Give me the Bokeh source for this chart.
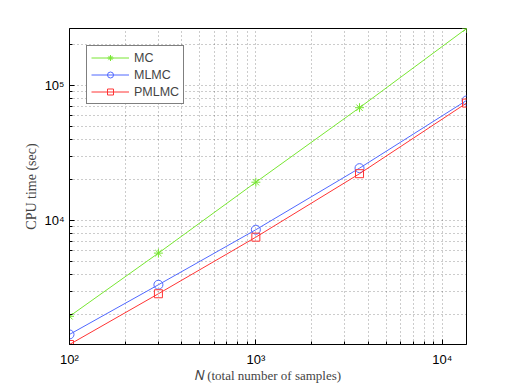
from bokeh.plotting import figure
from bokeh.models import Range1d, Legend, LegendItem, FixedTicker
from bokeh.embed import file_html
from bokeh.resources import INLINE

# ---- data ----
n_samples = [100, 300, 1000, 3600, 13500]
mc = [1950, 5730, 19200, 68400, 264000]
mlmc = [1432, 3340, 8540, 24400, 77400]
pmlmc = [1206, 2865, 7520, 22200, 74000]
series_names = ["MC", "MLMC", "PMLMC"]
x_major = [100, 1000, 10000]
y_major = [10000, 100000]
x_tick_labels = {100: "10\u00b2", 1000: "10\u00b3", 10000: "10\u2074"}
y_tick_labels = {10000: "10\u2074", 100000: "10\u2075"}
x_title = "\U0001D441 (total number of samples)"
y_title = "CPU time (sec)"

GREEN = "#78e632"
BLUE = "#5068ff"
RED = "#ff3434"

x_minor = [m * d for d in (10, 100, 1000, 10000) for m in range(2, 10)]
y_minor = [m * d for d in (100, 1000, 10000, 100000) for m in range(2, 10)]
xt = FixedTicker(ticks=x_major, minor_ticks=x_minor)
yt = FixedTicker(ticks=y_major, minor_ticks=y_minor)

p = figure(width=507, height=388, x_axis_type="log", y_axis_type="log",
           x_range=Range1d(min(n_samples), max(n_samples)),
           y_range=Range1d(min(pmlmc), max(mc)),
           output_backend="svg", toolbar_location=None,
           min_border_left=69, min_border_right=41, min_border_top=28, min_border_bottom=44)
p.background_fill_color = "white"
p.border_fill_color = "white"
p.outline_line_color = "black"
p.outline_line_width = 1

for ax, t, labels in ((p.xaxis[0], xt, x_tick_labels), (p.yaxis[0], yt, y_tick_labels)):
    ax.ticker = t
    ax.major_label_overrides = labels
    ax.major_label_text_font = "Liberation Sans"
    ax.major_label_text_font_size = "13px"
    ax.major_label_text_color = "black"
    ax.major_tick_in = 5
    ax.major_tick_out = 0
    ax.minor_tick_in = 3
    ax.minor_tick_out = 0
    ax.axis_line_color = "black"
    ax.major_tick_line_color = "black"
    ax.minor_tick_line_color = "black"
    ax.axis_label_text_font = "Liberation Serif"
    ax.axis_label_text_font_style = "normal"
p.xaxis[0].major_label_standoff = 7
p.yaxis[0].major_label_standoff = 5

p.yaxis[0].axis_label = y_title
p.yaxis[0].axis_label_text_font_size = "14px"
p.yaxis[0].axis_label_standoff = 2

p.xaxis[0].axis_label = x_title
p.xaxis[0].axis_label_text_font_size = "13px"
p.xaxis[0].axis_label_standoff = -2

p.xgrid.ticker = xt
p.ygrid.ticker = yt
for g in (p.xgrid[0], p.ygrid[0]):
    g.grid_line_color = "black"
    g.grid_line_alpha = 0.4
    g.grid_line_dash = "1 3"
    g.minor_grid_line_color = "black"
    g.minor_grid_line_alpha = 0.4
    g.minor_grid_line_dash = "1 3"

l1 = p.line(n_samples, mc, line_color=GREEN, line_width=1)
s1 = p.scatter(n_samples, mc, marker="asterisk", size=9, line_color=GREEN, line_width=1)
l2 = p.line(n_samples, mlmc, line_color=BLUE, line_width=1)
s2 = p.scatter(n_samples, mlmc, marker="circle", size=9, line_color=BLUE, fill_color=None, line_width=1)
l3 = p.line(n_samples, pmlmc, line_color=RED, line_width=1)
s3 = p.scatter(n_samples, pmlmc, marker="square", size=8, line_color=RED, fill_color=None, line_width=1)

legend = Legend(items=[LegendItem(label=series_names[0], renderers=[l1, s1]),
                       LegendItem(label=series_names[1], renderers=[l2, s2]),
                       LegendItem(label=series_names[2], renderers=[l3, s3])],
                location="top_left", margin=17, padding=4, spacing=2,
                label_height=15, glyph_height=15, glyph_width=38, label_standoff=5,
                label_text_font="Liberation Sans", label_text_font_size="12.5px",
                border_line_color="black", border_line_width=1,
                background_fill_color="white", background_fill_alpha=1)
p.add_layout(legend)

open("out.html", "w").write(file_html(p, INLINE))
